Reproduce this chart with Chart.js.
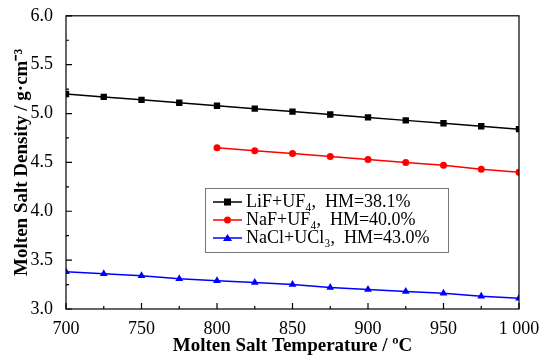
<!DOCTYPE html>
<html>
<head>
<meta charset="utf-8">
<script src="https://cdn.jsdelivr.net/npm/chart.js@4"></script>
<style>
  body { margin: 0; background: #fff; }
  #wrap { width: 542px; height: 357px; }
</style>
</head>
<body>
<div id="wrap"><canvas id="myChart"></canvas></div>
<script>
// data
const tempLiF = [700, 725, 750, 775, 800, 825, 850, 875, 900, 925, 950, 975, 1000];
const densLiF = [5.20, 5.17, 5.14, 5.11, 5.08, 5.05, 5.02, 4.99, 4.96, 4.93, 4.90, 4.87, 4.84];
const tempNaF = [800, 825, 850, 875, 900, 925, 950, 975, 1000];
const densNaF = [4.65, 4.62, 4.59, 4.56, 4.53, 4.50, 4.47, 4.43, 4.40];
const tempNaCl = [700, 725, 750, 775, 800, 825, 850, 875, 900, 925, 950, 975, 1000];
const densNaCl = [3.38, 3.36, 3.34, 3.31, 3.29, 3.27, 3.25, 3.22, 3.20, 3.18, 3.16, 3.13, 3.11];
const labels = ['LiF+UF\u2084,  HM=38.1%', 'NaF+UF\u2084,  HM=40.0%', 'NaCl+UCl\u2083,  HM=43.0%'];
const xTicks = [700, 750, 800, 850, 900, 950, 1000];
const yTicks = [3.0, 3.5, 4.0, 4.5, 5.0, 5.5, 6.0];

const serif = '"Liberation Serif", "Times New Roman", serif';

function pts(xs, ys) {
  return xs.map((x, i) => ({ x: x, y: ys[i] }));
}

// frame + inward ticks
const framePlugin = {
  id: 'frame',
  afterDraw(chart) {
    const ctx = chart.ctx;
    const a = chart.chartArea;
    const xs = chart.scales.x;
    const ys = chart.scales.y;
    ctx.save();
    ctx.strokeStyle = '#000';
    ctx.lineWidth = 1.2;
    ctx.strokeRect(a.left, a.top, a.right - a.left, a.bottom - a.top);
    ctx.beginPath();
    for (let v = 700; v <= 1000; v += 25) {
      const px = xs.getPixelForValue(v);
      const len = v % 50 === 0 ? 6 : 3;
      ctx.moveTo(px, a.bottom);
      ctx.lineTo(px, a.bottom - len);
    }
    for (let v = 3; v <= 6.001; v += 0.25) {
      const py = ys.getPixelForValue(v);
      const len = Math.abs(v * 2 - Math.round(v * 2)) < 0.01 ? 6 : 3;
      ctx.moveTo(a.left, py);
      ctx.lineTo(a.left + len, py);
    }
    ctx.stroke();
    ctx.restore();
  }
};

// legend box inside the plot
const legendPlugin = {
  id: 'boxLegend',
  afterDraw(chart) {
    const ctx = chart.ctx;
    ctx.save();
    ctx.fillStyle = '#fff';
    ctx.fillRect(205, 188, 243, 64);
    ctx.strokeStyle = '#777';
    ctx.lineWidth = 1;
    ctx.strokeRect(205.5, 188.5, 243, 64);
    ctx.font = '18px ' + serif;
    ctx.textBaseline = 'middle';
    chart.data.datasets.forEach((ds, i) => {
      const y = 202 + i * 18;
      ctx.strokeStyle = ds.borderColor;
      ctx.lineWidth = 1.5;
      ctx.beginPath();
      ctx.moveTo(213, y);
      ctx.lineTo(242, y);
      ctx.stroke();
      ctx.fillStyle = ds.borderColor;
      const cx = 227.5;
      if (ds.pointStyle === 'rect') {
        ctx.fillRect(cx - 3.5, y - 3.5, 7, 7);
      } else if (ds.pointStyle === 'circle') {
        ctx.beginPath();
        ctx.arc(cx, y, 3.5, 0, Math.PI * 2);
        ctx.fill();
      } else {
        ctx.beginPath();
        ctx.moveTo(cx, y - 4);
        ctx.lineTo(cx + 4.5, y + 3);
        ctx.lineTo(cx - 4.5, y + 3);
        ctx.closePath();
        ctx.fill();
      }
      ctx.fillStyle = '#000';
      ctx.fillText(ds.label, 246, y);
    });
    ctx.restore();
  }
};

const ctx = document.getElementById('myChart').getContext('2d');

const chart = new Chart(ctx, {
  type: 'scatter',
  data: {
    datasets: [
      {
        label: labels[0],
        data: pts(tempLiF, densLiF),
        borderColor: '#000000',
        backgroundColor: '#000000',
        pointStyle: 'rect',
        pointRadius: 4.5,
      },
      {
        label: labels[1],
        data: pts(tempNaF, densNaF),
        borderColor: '#ff0000',
        backgroundColor: '#ff0000',
        pointStyle: 'circle',
        pointRadius: 3.5,
      },
      {
        label: labels[2],
        data: pts(tempNaCl, densNaCl),
        borderColor: '#0000ff',
        backgroundColor: '#0000ff',
        pointStyle: 'triangle',
        pointRadius: 4.5,
      },
    ],
  },
  options: {
    responsive: true,
    maintainAspectRatio: false,
    animation: false,
    showLine: true,
    elements: {
      line: { borderWidth: 1.5, tension: 0 },
      point: { borderWidth: 0 },
    },
    layout: {
      padding: { left: 0, right: 23, top: 12, bottom: 0 },
    },
    plugins: {
      legend: { display: false },
      tooltip: { enabled: false },
    },
    scales: {
      x: {
        type: 'linear',
        min: 700,
        max: 1000,
        afterBuildTicks: (scale) => {
          scale.ticks = xTicks.map((v) => ({ value: v }));
        },
        afterFit: (scale) => {
          scale.height = 48;
        },
        grid: { display: false },
        border: { display: false },
        ticks: {
          color: '#000',
          padding: 1,
          maxRotation: 0,
          font: { family: serif, size: 18 },
          callback: (v) => (v === 1000 ? '1 000' : v),
        },
        title: {
          display: true,
          text: 'Molten Salt Temperature / \u00baC',
          color: '#000',
          padding: { top: 0, bottom: 0 },
          font: { family: serif, size: 19, weight: 'bold' },
        },
      },
      y: {
        type: 'linear',
        min: 3,
        max: 6,
        afterBuildTicks: (scale) => {
          scale.ticks = yTicks.map((v) => ({ value: v }));
        },
        afterFit: (scale) => {
          scale.width = 66;
        },
        grid: { display: false },
        border: { display: false },
        ticks: {
          color: '#000',
          padding: 5,
          font: { family: serif, size: 18 },
          callback: (v) => v.toFixed(1),
        },
        title: {
          display: true,
          text: 'Molten Salt Density / g\u00b7cm\u207b\u00b3',
          color: '#000',
          padding: { top: 11, bottom: 0 },
          font: { family: serif, size: 19, weight: 'bold' },
        },
      },
    },
  },
  plugins: [framePlugin, legendPlugin],
});
</script>
</body>
</html>
